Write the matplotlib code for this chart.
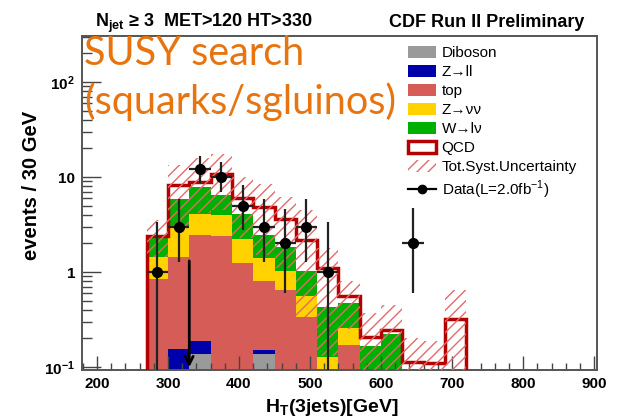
import numpy as np
import matplotlib.pyplot as plt
from matplotlib.patches import Patch
from matplotlib.lines import Line2D
from matplotlib.ticker import FixedLocator, MultipleLocator, LogLocator, NullFormatter

plt.rcParams['font.family'] = ['Liberation Sans', 'DejaVu Sans']
plt.rcParams['mathtext.fontset'] = 'custom'
plt.rcParams['mathtext.rm'] = 'Liberation Sans'
plt.rcParams['mathtext.bf'] = 'Liberation Sans:bold'
plt.rcParams['hatch.linewidth'] = 1.0

# HT bins, 30 GeV wide
edges = np.arange(270, 721, 30)

# stacked MC components, per bin (270..720)
diboson = [0, 0, 0.136, 0, 0, 0.136, 0, 0, 0, 0, 0, 0, 0, 0, 0]
zll = [0, 0.154, 0.054, 0, 0, 0.016, 0, 0, 0, 0, 0, 0, 0, 0, 0]
top = [0.84, 1.30, 2.26, 2.42, 1.25, 0.66, 0.65, 0.34, 0, 0.17, 0, 0, 0, 0, 0]
znn = [0.59, 1.55, 1.65, 1.56, 1.0, 0.58, 0.38, 0.22, 0.128, 0.09, 0, 0, 0, 0, 0]
wln = [0.96, 2.8, 3.7, 2.49, 1.86, 1.06, 0.82, 0.46, 0.30, 0.21, 0.166, 0.22, 0, 0, 0]
qcd = [0.01, 2.4, 1.1, 4.2, 1.87, 2.37, 1.74, 1.13, 0.68, 0.09, 0.039, 0.025, 0.112, 0.109, 0.32]

# total systematic band
syst_lo = [1.45, 3.0, 4.2, 4.5, 2.3, 1.5, 1.1, 0.34, 0.13, 0.25, 0.01, 0.01, 0.01, 0.01, 0.01]
syst_hi = [3.5, 13.5, 16, 17.5, 10, 8.5, 6.2, 4.5, 1.8, 0.8, 0.37, 0.45, 0.2, 0.19, 0.65]

# data
data_x = [285, 315, 345, 375, 405, 435, 465, 495, 525, 645]
data_y = [1, 3, 12, 10, 5, 3, 2, 3, 1, 2]
data_lo = [0.05, 1.27, 8.6, 6.9, 2.8, 1.27, 0.6, 1.27, 0.05, 0.6]
data_hi = [3.4, 5.9, 16.6, 14.5, 8.3, 5.8, 4.6, 5.9, 3.4, 4.7]

ht_cut = 330
cut_arrow_top = 1.4

fig = plt.figure(figsize=(6.21, 4.2), dpi=100)
ax = fig.add_axes([82 / 621, 50 / 420, 515 / 621, 334 / 420])
ax.set_yscale('log')

comps = [(diboson, '#9a9a9a'), (zll, '#0000aa'), (top, '#d65c57'),
         (znn, '#ffd200'), (wln, '#00b000')]
base = np.zeros(len(edges) - 1)
for vals, col in comps:
    t = base + np.array(vals)
    ax.stairs(t, edges, baseline=base.copy(), fill=True, color=col, lw=0, zorder=1)
    base = t
total = base + np.array(qcd)
ax.stairs(total, edges, color='#b40000', lw=2.5, zorder=3)

ax.stairs(syst_hi, edges, baseline=syst_lo, fill=True, facecolor='none',
          edgecolor='#e46a6a', hatch='///', lw=0, zorder=4)

ax.annotate('', xy=(ht_cut, 0.093), xytext=(ht_cut, cut_arrow_top),
            arrowprops=dict(arrowstyle='->', color='k', lw=2, mutation_scale=14),
            zorder=5)

xerr = 15
yerr = [np.array(data_y) - np.array(data_lo), np.array(data_hi) - np.array(data_y)]
ax.errorbar(data_x, data_y, xerr=xerr, yerr=yerr, fmt='o', color='k', ecolor='#222222',
            ms=7, elinewidth=1.6, capsize=0, zorder=6)

ax.set_xlim(179, 904)
ax.set_ylim(0.093, 305)

ax.xaxis.set_major_locator(MultipleLocator(100))
ax.xaxis.set_minor_locator(MultipleLocator(20))
ax.yaxis.set_major_locator(FixedLocator([0.1, 1, 10, 100]))
ax.yaxis.set_minor_locator(LogLocator(subs=np.arange(2, 10)))
ax.yaxis.set_minor_formatter(NullFormatter())
ax.set_yticklabels([r'$\mathbf{10^{-1}}$', '1', '10', r'$\mathbf{10^{2}}$'])
ax.tick_params(which='both', direction='in', color='#444444', labelsize=11, pad=5)
ax.tick_params(axis='x', which='major', length=10, width=1)
ax.tick_params(axis='x', which='minor', length=5, width=1)
ax.tick_params(axis='y', which='major', length=14, width=1)
ax.tick_params(axis='y', which='minor', length=7, width=1)
for lab in ax.get_xticklabels() + ax.get_yticklabels():
    lab.set_fontweight('bold')
for s in ax.spines.values():
    s.set_color('#555555')
    s.set_linewidth(1.4)

fig.text(332 / 621, 1 - 412 / 420, r'H$_{\mathbf{T}}$(3jets)[GeV]', fontsize=14,
         fontweight='bold', ha='center', va='baseline')
fig.text(32 / 621, 1 - 185 / 420, 'events / 30 GeV', fontsize=14.5, fontweight='bold',
         rotation=90, ha='center', va='center')
fig.text(95 / 621, 1 - 27 / 420, r'N$_{\mathbf{jet}}$ ≥ 3  MET>120 HT>330', fontsize=13,
         fontweight='bold', ha='left', va='baseline')
fig.text(584 / 621, 1 - 27 / 420, 'CDF Run II Preliminary', fontsize=13,
         fontweight='bold', ha='right', va='baseline')

fig.text(84 / 621, 1 - 65 / 420, 'SUSY search', fontsize=28.5, family='Lato',
         color='#e8740f', ha='left', va='baseline')
fig.text(84 / 621, 1 - 114 / 420, '(squarks/sgluinos)', fontsize=28.5, family='Lato',
         color='#e8740f', ha='left', va='baseline')

handles = [Patch(facecolor='#9a9a9a'), Patch(facecolor='#0000aa'), Patch(facecolor='#d65c57'),
           Patch(facecolor='#ffd200'), Patch(facecolor='#00b000'),
           Patch(facecolor='white', edgecolor='#b40000', lw=2.5),
           Patch(facecolor='none', edgecolor='#e46a6a', hatch='///', lw=0),
           Line2D([], [], color='k', marker='o', ms=6, lw=1.6)]
labels = ['Diboson', 'Z→ll', 'top', 'Z→νν', 'W→lν', 'QCD', 'Tot.Syst.Uncertainty',
          r'Data(L=2.0fb$^{-1}$)']
ax.legend(handles, labels, loc='upper left', bbox_to_anchor=((408 - 82) / 515, (370 - 46) / 334),
          frameon=False, borderpad=0, borderaxespad=0, fontsize=11, handlelength=1.8,
          handleheight=0.85, handletextpad=0.4, labelspacing=0.3)

fig.savefig('out.png', dpi=100)
